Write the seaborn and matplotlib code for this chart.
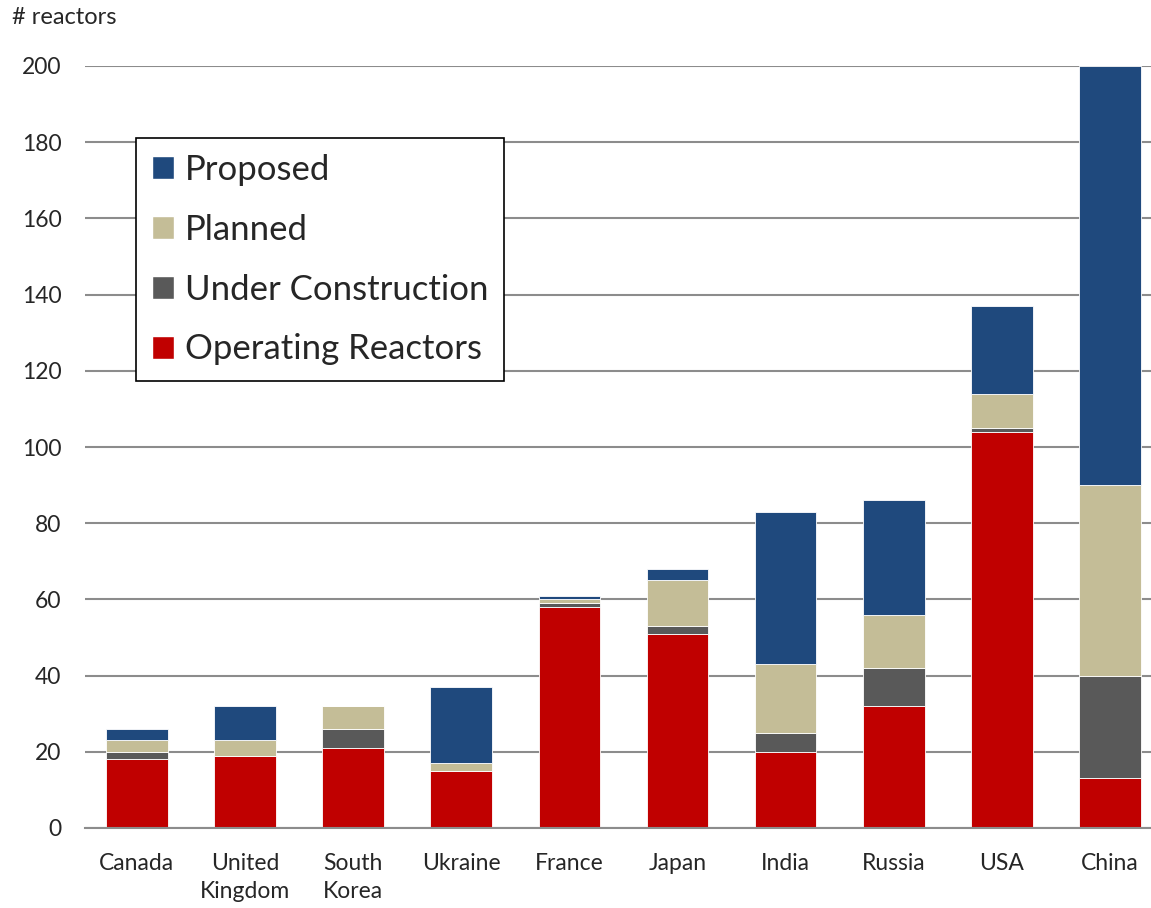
import matplotlib
matplotlib.use('Agg')
import matplotlib.pyplot as plt
import seaborn as sns
import numpy as np
from matplotlib.patches import Patch

countries = ['Canada', 'United\nKingdom', 'South\nKorea', 'Ukraine', 'France',
             'Japan', 'India', 'Russia', 'USA', 'China']
operating = [18, 19, 21, 15, 58, 51, 20, 32, 104, 13]
under_construction = [2, 0, 5, 0, 1, 2, 5, 10, 1, 27]
planned = [3, 4, 6, 2, 1, 12, 18, 14, 9, 50]
proposed = [3, 9, 0, 20, 1, 3, 40, 30, 23, 110]

series_names = ['Operating Reactors', 'Under Construction', 'Planned', 'Proposed']
series_colors = ['#C00000', '#595959', '#C4BD97', '#1F497D']

sns.set_style('white')
plt.rcParams['font.family'] = ['Lato', 'DejaVu Sans']

fig = plt.figure(figsize=(11.51, 9.08), dpi=100)
ax = fig.add_axes([85 / 1151, 1 - 828 / 908, 1066 / 1151, 762 / 908])

# stacked bars, bottom-up
bottom = np.zeros(len(countries))
for vals, col in zip([operating, under_construction, planned, proposed], series_colors):
    sns.barplot(x=countries, y=vals, bottom=bottom, color=col, width=0.57,
                edgecolor='#ffffff', linewidth=0.6, saturation=1, ax=ax)
    bottom = bottom + np.array(vals)

ax.set_xlim(-0.48, 9.38)
ax.set_ylim(0, 200)
ax.set_yticks(range(0, 201, 20))
ax.yaxis.grid(True, color='#8c8c8c', linewidth=1.5)
ax.set_axisbelow(True)
for s in ['left', 'right', 'top']:
    ax.spines[s].set_visible(False)
ax.spines['bottom'].set_color('#8c8c8c')
ax.spines['bottom'].set_linewidth(1.5)
ax.tick_params(axis='both', length=0, labelsize=16.5)
ax.tick_params(axis='y', pad=17)
ax.tick_params(axis='x', pad=18)
for lbl in ax.get_xticklabels():
    lbl.set_linespacing(1.4)
ax.set_xlabel('')
ax.set_ylabel('')

fig.text(12 / 1151, 1 - 18 / 908, '# reactors', fontsize=17, va='center', ha='left')

handles = [Patch(facecolor=c, label=n) for n, c in zip(series_names, series_colors)][::-1]
leg = ax.legend(handles=handles, loc='upper left', bbox_to_anchor=(0.048, 0.905),
                fontsize=25, frameon=True, fancybox=False, edgecolor='black',
                framealpha=1, handlelength=0.65, handleheight=0.65,
                handletextpad=0.3, labelspacing=0.8, borderpad=0.45,
                borderaxespad=0)
leg.get_frame().set_linewidth(1.2)

plt.savefig('out.png', dpi=100)
